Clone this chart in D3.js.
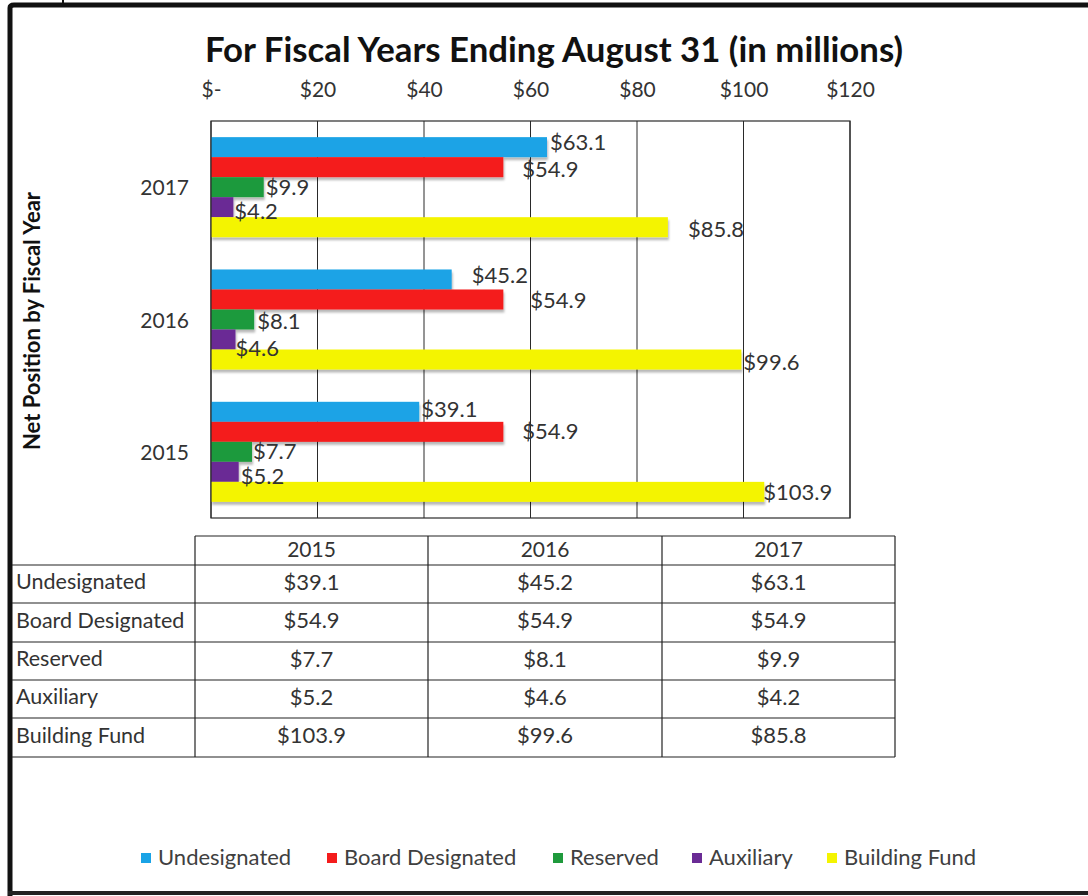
<!DOCTYPE html>
<html>
<head>
<meta charset="utf-8">
<script src="https://cdn.jsdelivr.net/npm/d3@7/dist/d3.min.js"></script>
<style>
  html, body { margin: 0; padding: 0; background: #fff; }
  svg { display: block; }
  text { font-family: Lato, "Open Sans", sans-serif; fill: #333; }
</style>
</head>
<body>
<svg id="chart" width="1088" height="896"></svg>
<script>
// Net position by fiscal year, in millions of dollars
const years = ["2015", "2016", "2017"];
const series = ["Undesignated", "Board Designated", "Reserved", "Auxiliary", "Building Fund"];
const undesignated    = [39.1, 45.2, 63.1];
const boardDesignated = [54.9, 54.9, 54.9];
const reserved        = [7.7, 8.1, 9.9];
const auxiliary       = [5.2, 4.6, 4.2];
const buildingFund    = [103.9, 99.6, 85.8];
const xTicks = [0, 20, 40, 60, 80, 100, 120];
const colors = ["#1aa3e6", "#f41c1c", "#1f9a3c", "#6a2b95", "#f4f400"];

const values = [undesignated, boardDesignated, reserved, auxiliary, buildingFund];

// hand-placed label nudges (px), keyed by series then year index
const labelNudge = [
  [[2, 0], [20, -2], [3, -3]],
  [[19, 2], [27, 3], [19, 4]],
  [[1, 2], [3, 4], [2, 2]],
  [[2, 7], [0, 11], [1, 6]],
  [[-1, 3], [2, 5], [20, 4]]
];

const fmt = v => "$" + v.toFixed(1);
const svg = d3.select("#chart");

// shadow under the bars
const defs = svg.append("defs");
const f = defs.append("filter").attr("id", "shadow")
  .attr("x", "-5%").attr("y", "-20%").attr("width", "110%").attr("height", "160%");
f.append("feDropShadow").attr("dx", 1).attr("dy", 3)
  .attr("stdDeviation", 1.2).attr("flood-color", "#000").attr("flood-opacity", 0.28);

// outer frame
svg.append("path")
  .attr("d", "M10,896 L10,8 Q10,5 14,5 L1088,5")
  .attr("fill", "none").attr("stroke", "#111").attr("stroke-width", 5);
svg.append("line").attr("x1", 63).attr("x2", 63).attr("y1", 0).attr("y2", 5)
  .attr("stroke", "#111").attr("stroke-width", 2);
svg.append("line").attr("x1", 8).attr("x2", 1088).attr("y1", 893).attr("y2", 893)
  .attr("stroke", "#222").attr("stroke-width", 4);

// title
svg.append("text")
  .attr("x", 554).attr("y", 62)
  .attr("text-anchor", "middle")
  .attr("font-size", 34).attr("font-weight", 700)
  .attr("textLength", 698).attr("lengthAdjust", "spacingAndGlyphs")
  .style("fill", "#111")
  .text("For Fiscal Years Ending August 31 (in millions)");

// plot area
const plot = { left: 211, right: 850, top: 121, bottom: 518 };
const x = d3.scaleLinear().domain([0, 120]).range([plot.left, plot.right]);
const yOuter = d3.scaleBand().domain(years.slice().reverse())
  .range([plot.top, plot.bottom]).paddingInner(0.244).paddingOuter(0.122);
const yInner = d3.scaleBand().domain(series).range([0, yOuter.bandwidth()]);

// grid lines
svg.append("g").selectAll("line").data(xTicks).join("line")
  .attr("x1", d => x(d)).attr("x2", d => x(d))
  .attr("y1", plot.top).attr("y2", plot.bottom)
  .attr("stroke", "#2a2a2a").attr("stroke-width", 1);

// top axis
const axis = svg.append("g")
  .attr("transform", `translate(0,${plot.top})`)
  .call(d3.axisTop(x).tickValues(xTicks).tickSize(0).tickPadding(24)
    .tickFormat(d => d === 0 ? "$-" : "$" + d));
axis.select(".domain").remove();
axis.selectAll("text").attr("font-size", 21).style("fill", "#333")
  .style("font-family", "Lato, sans-serif");

// year labels
svg.append("g").selectAll("text").data(years).join("text")
  .attr("x", 189).attr("y", d => yOuter(d) + yOuter.bandwidth() / 2 + 3)
  .attr("text-anchor", "end").attr("dominant-baseline", "middle")
  .attr("font-size", 21)
  .text(d => d);

// vertical axis title
svg.append("text")
  .attr("transform", "translate(40,321) rotate(-90)")
  .attr("text-anchor", "middle")
  .attr("font-size", 22).attr("font-weight", 700)
  .style("fill", "#111")
  .text("Net Position by Fiscal Year");

// bars
const cells = [];
series.forEach((s, si) => years.forEach((yr, yi) => {
  cells.push({ s, si, yr, yi, v: values[si][yi] });
}));

svg.append("g").attr("filter", "url(#shadow)")
  .selectAll("rect").data(cells).join("rect")
  .attr("x", x(0))
  .attr("y", d => yOuter(d.yr) + yInner(d.s))
  .attr("width", d => x(d.v) - x(0))
  .attr("height", yInner.bandwidth())
  .attr("fill", d => colors[d.si]);

// plot border
svg.append("rect")
  .attr("x", plot.left).attr("y", plot.top)
  .attr("width", plot.right - plot.left).attr("height", plot.bottom - plot.top)
  .attr("fill", "none").attr("stroke", "#2a2a2a").attr("stroke-width", 1.2);

// data labels
svg.append("g").selectAll("text").data(cells).join("text")
  .attr("x", d => x(d.v) + labelNudge[d.si][d.yi][0])
  .attr("y", d => yOuter(d.yr) + yInner(d.s) + yInner.bandwidth() / 2 + labelNudge[d.si][d.yi][1])
  .attr("dominant-baseline", "middle")
  .attr("font-size", 22)
  .text(d => fmt(d.v));

// data table
const colEdges = [195, 428, 662, 895];
const rowEdges = [536, 565, 603, 642, 680, 718, 757];
const tbl = svg.append("g").attr("stroke", "#222").attr("stroke-width", 1.2);
tbl.append("line").attr("x1", colEdges[0]).attr("x2", colEdges[3])
  .attr("y1", rowEdges[0]).attr("y2", rowEdges[0]);
rowEdges.slice(1).forEach(ry => {
  tbl.append("line").attr("x1", 12).attr("x2", colEdges[3]).attr("y1", ry).attr("y2", ry);
});
colEdges.forEach(cx => {
  tbl.append("line").attr("x1", cx).attr("x2", cx)
    .attr("y1", rowEdges[0]).attr("y2", rowEdges[6]);
});

const colMid = i => (colEdges[i] + colEdges[i + 1]) / 2;
const rowMid = i => (rowEdges[i] + rowEdges[i + 1]) / 2;

svg.append("g").selectAll("text").data(years).join("text")
  .attr("x", (d, i) => colMid(i)).attr("y", rowMid(0) + 1)
  .attr("text-anchor", "middle").attr("dominant-baseline", "middle")
  .attr("font-size", 21).text(d => d);

svg.append("g").selectAll("text").data(series).join("text")
  .attr("x", 16).attr("y", (d, i) => rowMid(i + 1))
  .attr("dominant-baseline", "middle")
  .attr("font-size", 21.5).text(d => d);

svg.append("g").selectAll("text").data(cells).join("text")
  .attr("x", d => colMid(d.yi)).attr("y", d => rowMid(d.si + 1))
  .attr("text-anchor", "middle").attr("dominant-baseline", "middle")
  .attr("font-size", 22).text(d => fmt(d.v));

// legend
const legendX = [141, 327, 553, 692, 827];
const lg = svg.append("g").selectAll("g").data(series).join("g")
  .attr("transform", (d, i) => `translate(${legendX[i]},858)`);
lg.append("rect").attr("x", 0).attr("y", -5).attr("width", 10).attr("height", 10)
  .attr("fill", (d, i) => colors[i]);
lg.append("text").attr("x", 17).attr("y", 1)
  .attr("dominant-baseline", "middle")
  .attr("font-size", 22).style("fill", "#404040").text(d => d);
</script>
</body>
</html>
